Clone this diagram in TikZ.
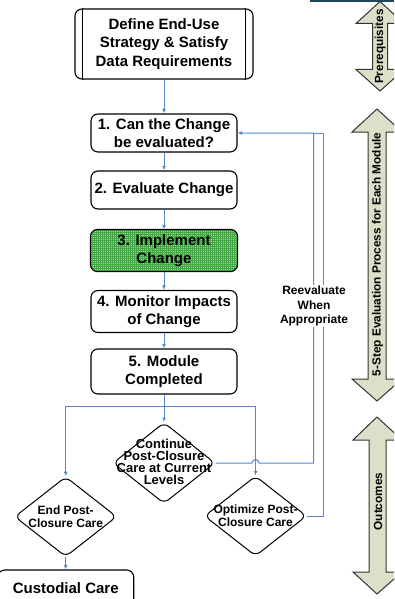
\documentclass[tikz,border=0pt]{standalone}
\usepackage{fontspec}
\setmainfont{Liberation Sans}
\usetikzlibrary{arrows.meta,shapes.geometric}
\definecolor{flow}{RGB}{88,134,206}
\definecolor{armfill}{RGB}{221,223,200}
\definecolor{gridgreen}{RGB}{70,165,70}
\definecolor{lightgreen}{RGB}{150,215,140}
\definecolor{topbar}{RGB}{30,70,90}
\begin{document}
\begin{tikzpicture}[x=1pt,y=-1pt,
  box/.style={draw=black, line width=1.1pt, rounded corners=7pt, fill=white, minimum width=146pt, align=center, font=\fontsize{15}{18.5}\selectfont\bfseries, inner sep=0pt},
  btext/.style={align=center, text=black, font=\fontsize{15}{18.5}\selectfont\bfseries, inner sep=0pt},
  dia/.style={draw=black, line width=1pt, diamond, rounded corners=6pt, fill=white, inner sep=0pt, minimum width=102pt, minimum height=80pt},
  dtext/.style={align=center, font=\fontsize{12}{13.3}\selectfont\bfseries, inner sep=0pt},
  conn/.style={draw=flow, line width=1pt},
  arrow/.style={conn, -{Latex[length=4.5pt,width=4pt]}},
  bigarr/.style={draw=black!80, line width=1pt, fill=armfill},
  armtext/.style={rotate=90, font=\fontsize{11.8}{12}\selectfont\bfseries, inner sep=0pt},
  retext/.style={fill=white, align=center, font=\fontsize{12}{14.2}\selectfont\bfseries, inner sep=1pt},
]
\useasboundingbox (0,0) rectangle (394,599);
\clip (0,0) rectangle (394,599);

\fill[topbar] (310,0) rectangle (394,2.5);

% boxes
\node[box, minimum width=178pt, minimum height=70pt] (top) at (164,44) {Define End-Use\\Strategy \& Satisfy\\Data Requirements};
\draw[line width=1.1pt] ([xshift=8pt]top.north west) -- ([xshift=8pt]top.south west);
\draw[line width=1.1pt] ([xshift=-8pt]top.north east) -- ([xshift=-8pt]top.south east);
\node[box, minimum height=38pt] (b1) at (164,133) {1. Can the Change\\be evaluated?};
\node[box, minimum height=38pt] (b2) at (164,190) {2. Evaluate Change};
\node[box, draw=none, fill=lightgreen, minimum height=41pt] (b3) at (164,250.5) {};
\begin{scope}
  \clip[rounded corners=7pt] (b3.south west) rectangle (b3.north east);
  \draw[gridgreen, line width=0.45pt] (b3.south west) grid[step=2pt] (b3.north east);
\end{scope}
\draw[line width=1.1pt, rounded corners=7pt] (b3.south west) rectangle (b3.north east);
\node[btext] (b3t) at (b3) {3. Implement\\Change};
\node[box, minimum height=42pt] (b4) at (164,311.5) {4. Monitor Impacts\\of Change};
\node[box, minimum height=45pt] (b5) at (164,371.5) {5. Module\\Completed};

% diamonds
\node[dia, minimum height=81pt] (d1) at (164,463) {};
\node[dtext, font=\fontsize{13}{11.8}\selectfont\bfseries] (d1t) at (164,462) {Continue\\Post-Closure\\Care at Current\\Levels};
\node[dia] (d2) at (65.7,516.7) {};
\node[dtext] (d2t) at (65.7,516.5) {End Post-\\Closure Care};
\node[dia] (d3) at (255.5,516) {};
\node[dtext] (d3t) at (255.5,516) {Optimize Post-\\Closure Care};

\node[box, minimum width=136pt, minimum height=36pt] (cc) at (65.7,588) {Custodial Care};

% connectors
\draw[arrow] (top) -- (b1);
\draw[arrow] (b1) -- (b2);
\draw[arrow] (b2) -- (b3);
\draw[arrow] (b3) -- (b4);
\draw[arrow] (b4) -- (b5);
\coordinate (j) at (164,406);
\draw[conn] (b5.south) -- (j);
\draw[arrow] (j) -- (d1.north);
\draw[arrow] (j) -| (d2.north);
\draw[arrow] (j) -| (d3.north);
\draw[arrow] (d2.south) -- (cc.north);

\coordinate (f1) at (313.5,463);
\coordinate (f2) at (323.5,516);
\draw[arrow] (d1.east) -- (252,463) arc[start angle=180,end angle=360,radius=3.5] -- (f1) -- (f1 |- b1.east) -- (b1.east);
\draw[conn] (d3.east) -- (f2) -- (f2 |- b1.east) -- (f1 |- b1.east);
\node[retext] (re) at (314,306) {Reevaluate\\When\\Appropriate};

% side arrows
\draw[bigarr] (380,1.5) -- (404,23.5) -- (387.5,23.5) -- (387.5,69.5) -- (404,69.5) -- (380,91) -- (356,69.5) -- (372.5,69.5) -- (372.5,23.5) -- (356,23.5) -- cycle;
\node[armtext] (pq) at (380,46.5) {Prerequisites};
\draw[bigarr] (377,109) -- (402,132) -- (386,132) -- (386,379) -- (402,379) -- (377,401) -- (352,379) -- (368,379) -- (368,132) -- (352,132) -- cycle;
\node[armtext] (fs) at (377.5,254.5) {5-Step Evaluation Process for Each Module};
\draw[bigarr] (377,417) -- (402,440) -- (386,440) -- (386,572) -- (402,572) -- (377,594) -- (353,572) -- (369,572) -- (369,440) -- (353,440) -- cycle;
\node[armtext] (oc) at (378,501.5) {Outcomes};
\end{tikzpicture}
\end{document}
